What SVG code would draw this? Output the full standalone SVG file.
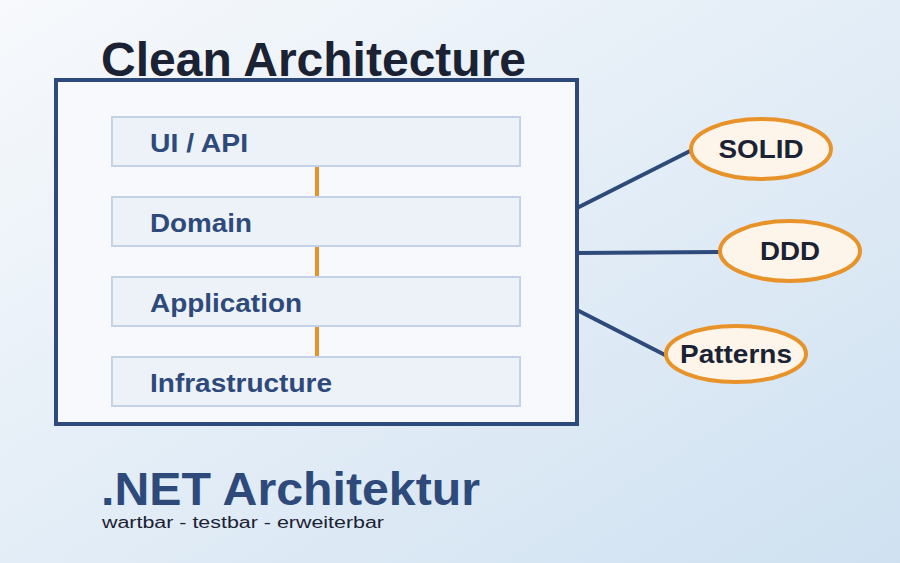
<svg xmlns="http://www.w3.org/2000/svg" width="900" height="563" viewBox="0 0 900 563">
<defs>
<linearGradient id="bg" x1="0" y1="0" x2="1" y2="1"><stop offset="0" stop-color="#f7f9fc"/><stop offset="1" stop-color="#cfe1f1"/></linearGradient>
<style>
.layer{fill:#edf2f9;stroke:#c3d2e6;stroke-width:2}
.lt{font-family:"Liberation Sans",Arial,sans-serif;font-weight:bold;font-size:25px;fill:#2e4a7a}
.el{fill:#fdf5ea;stroke:#e8922a;stroke-width:4}
.et{font-family:"Liberation Sans",Arial,sans-serif;font-weight:bold;font-size:25px;fill:#1a2233;text-anchor:middle}
.blue{stroke:#2e4a7a;stroke-width:4;fill:none}
.or{stroke:#e8922a;stroke-width:4}
</style>
</defs>
<rect width="900" height="563" fill="url(#bg)"/>
<text x="101" y="76" font-family="Liberation Sans,Arial,sans-serif" font-weight="bold" font-size="48" fill="#1a2233" textLength="425" lengthAdjust="spacingAndGlyphs">Clean Architecture</text>
<g id="main"><rect x="56" y="80" width="521" height="344" fill="#f7f9fc" stroke="#2e4a7a" stroke-width="4"/></g>
<g id="connectors">
<line class="or" x1="317" y1="166" x2="317" y2="197"/>
<line class="or" x1="317" y1="246" x2="317" y2="277"/>
<line class="or" x1="317" y1="326" x2="317" y2="357"/>
<line class="blue" x1="577" y1="208" x2="692" y2="150"/>
<line class="blue" x1="577" y1="253" x2="720" y2="252"/>
<line class="blue" x1="577" y1="310" x2="667" y2="356"/>
</g>
<g id="ui"><rect class="layer" x="112" y="117" width="408" height="49"/><text class="lt" x="150" y="152" textLength="98" lengthAdjust="spacingAndGlyphs">UI / API</text></g>
<g id="domain"><rect class="layer" x="112" y="197" width="408" height="49"/><text class="lt" x="150" y="232" textLength="102" lengthAdjust="spacingAndGlyphs">Domain</text></g>
<g id="application"><rect class="layer" x="112" y="277" width="408" height="49"/><text class="lt" x="150" y="312" textLength="152" lengthAdjust="spacingAndGlyphs">Application</text></g>
<g id="infrastructure"><rect class="layer" x="112" y="357" width="408" height="49"/><text class="lt" x="150" y="392" textLength="182" lengthAdjust="spacingAndGlyphs">Infrastructure</text></g>
<g id="solid"><ellipse class="el" cx="761" cy="149" rx="70" ry="30"/><text class="et" x="761" y="158" textLength="85" lengthAdjust="spacingAndGlyphs">SOLID</text></g>
<g id="ddd"><ellipse class="el" cx="790" cy="251" rx="70" ry="30"/><text class="et" x="790" y="260" textLength="60" lengthAdjust="spacingAndGlyphs">DDD</text></g>
<g id="patterns"><ellipse class="el" cx="736" cy="354" rx="70" ry="28"/><text class="et" x="736" y="363" textLength="112" lengthAdjust="spacingAndGlyphs">Patterns</text></g>
<text x="101" y="505" font-family="Liberation Sans,Arial,sans-serif" font-weight="bold" font-size="46" fill="#2e4a7a" textLength="379" lengthAdjust="spacingAndGlyphs">.NET Architektur</text>
<text x="102" y="528" font-family="Liberation Sans,Arial,sans-serif" font-size="16" fill="#1a2233" textLength="282" lengthAdjust="spacingAndGlyphs">wartbar - testbar - erweiterbar</text>
</svg>
